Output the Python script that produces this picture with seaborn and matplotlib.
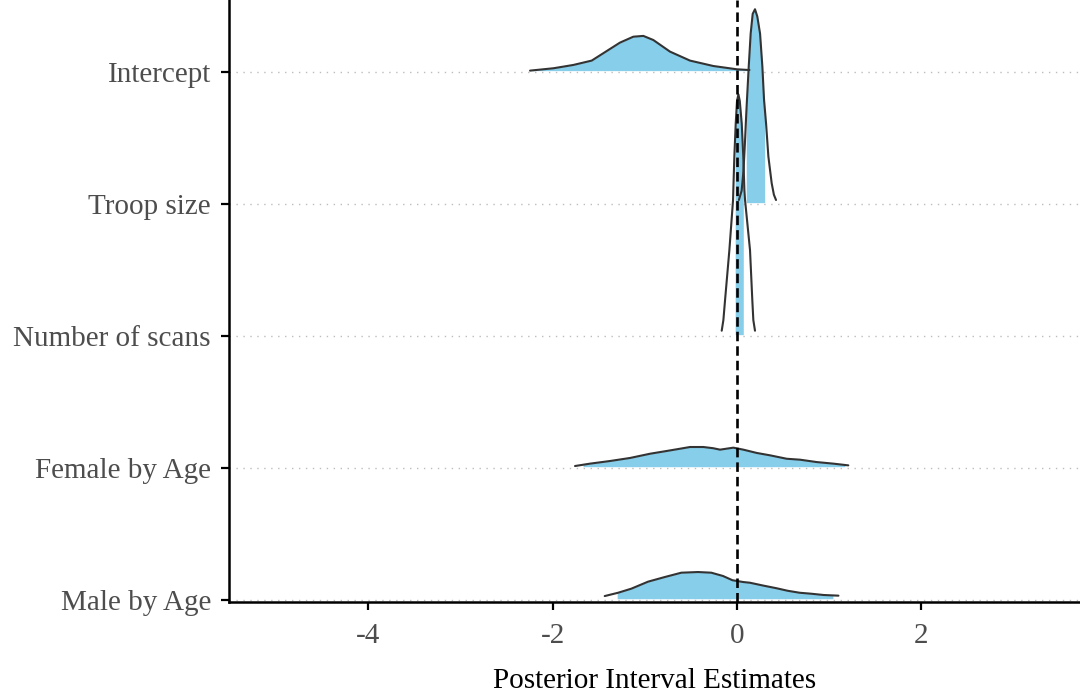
import numpy as np
import pandas as pd
import matplotlib
matplotlib.use("Agg")
import matplotlib.pyplot as plt
import seaborn as sns

# ---- data (x = estimate, h = density height in row units) ----
params = ["Intercept", "Troop size", "Number of scans", "Female by Age", "Male by Age"]
row_pos = [4, 3, 2, 1, 0]

intercept_x = [-2.245, -1.99, -1.775, -1.576, -1.45, -1.27, -1.125, -1.016, -0.908, -0.727,
               -0.51, -0.257, 0.0, 0.123, 0.135]
intercept_h = [0.01, 0.028, 0.053, 0.086, 0.142, 0.222, 0.267, 0.273, 0.242, 0.154,
               0.086, 0.045, 0.02, 0.015, 0.015]

troop_x = [0.02, 0.05, 0.07, 0.085, 0.10, 0.108, 0.127, 0.148, 0.17, 0.195, 0.22, 0.25, 0.275,
           0.293, 0.315, 0.34, 0.376, 0.40, 0.423]
troop_h = [0.03, 0.10, 0.25, 0.45, 0.68, 0.79, 1.04, 1.29, 1.44, 1.475, 1.42, 1.29, 1.04,
           0.79, 0.61, 0.36, 0.157, 0.07, 0.03]

scans_x = [-0.166, -0.148, -0.13, -0.083, -0.043, -0.04, -0.029, -0.014, 0.0, 0.015, 0.03,
           0.051, 0.068, 0.08, 0.087, 0.141, 0.166, 0.177, 0.195]
scans_h = [0.04, 0.12, 0.27, 0.65, 1.03, 1.106, 1.36, 1.61, 1.78, 1.83, 1.78,
           1.61, 1.36, 1.106, 1.03, 0.65, 0.27, 0.12, 0.04]

female_x = [-1.757, -1.594, -1.377, -1.16, -0.944, -0.762, -0.618, -0.51, -0.365, -0.26,
            -0.184, -0.04, 0.068, 0.214, 0.358, 0.539, 0.683, 0.864, 1.045, 1.207]
female_h = [0.015, 0.033, 0.053, 0.076, 0.108, 0.129, 0.146, 0.159, 0.159, 0.15,
            0.139, 0.154, 0.139, 0.114, 0.096, 0.07, 0.063, 0.045, 0.033, 0.02]

male_x = [-1.435, -1.29, -1.146, -0.965, -0.784, -0.604, -0.423, -0.279, -0.152, -0.05,
          0.07, 0.14, 0.28, 0.43, 0.55, 0.68, 0.80, 0.94, 1.10]
male_h = [0.03, 0.055, 0.086, 0.139, 0.174, 0.207, 0.212, 0.207, 0.182, 0.15,
          0.136, 0.131, 0.11, 0.089, 0.07, 0.055, 0.048, 0.038, 0.033]

# shaded (inner) interval limits
inner_lo = [-2.22, 0.10, -0.02, -1.67, -1.30]
inner_hi = [0.135, 0.30, 0.068, 1.17, 1.04]

xticks = [-4, -2, 0, 2]
xlabel = "Posterior Interval Estimates"

curves_x = [intercept_x, troop_x, scans_x, female_x, male_x]
curves_h = [intercept_h, troop_h, scans_h, female_h, male_h]

# ---- styling ----
sns.set_theme(style="ticks")
plt.rcParams["font.family"] = ["Liberation Serif", "DejaVu Serif"]

fig = plt.figure(figsize=(10.8, 6.98), dpi=100)
ax = fig.add_axes([229 / 1080, 96 / 698, 1 - 229 / 1080, 1 - 96 / 698])

fill_col = "#87CEEB"
line_col = "#333333"

# grid lines
for p in row_pos:
    ax.axhline(p, color="#bdbdbd", lw=1.0, ls=(0, (1, 4)), zorder=0.5)

# fills
for xs, hs, base, lo, hi in zip(curves_x, curves_h, row_pos, inner_lo, inner_hi):
    xs = np.asarray(xs, float)
    hs = np.asarray(hs, float)
    inside = (xs > lo) & (xs < hi)
    fx = np.concatenate([[lo], xs[inside], [hi]])
    fh = np.concatenate([[np.interp(lo, xs, hs)], hs[inside], [np.interp(hi, xs, hs)]])
    ax.fill_between(fx, base + 0.01, base + fh, color=fill_col, lw=0, zorder=1)

# outlines via seaborn
for name, xs, hs, base in zip(params, curves_x, curves_h, row_pos):
    df = pd.DataFrame({"x": xs, "y": np.asarray(hs) + base})
    sns.lineplot(data=df, x="x", y="y", sort=False, color=line_col, lw=1.5, ax=ax, zorder=2)

# reference line at zero
ax.axvline(0, color="black", lw=1.9, dashes=(3.6, 1.9), zorder=3)

ax.set_xlim(-5.51, 3.72)
ax.set_ylim(-0.015, 4.545)
ax.set_yticks(row_pos)
ax.set_yticklabels(params)
ax.set_xticks(xticks)
ax.set_xticklabels([str(t) for t in xticks])
ax.set_xlabel(xlabel, fontsize=21, color="black", labelpad=14)
ax.set_ylabel("")

ax.tick_params(axis="both", labelsize=21, labelcolor="#4d4d4d", color="black",
               width=1.6, length=6, direction="out")
ax.tick_params(axis="y", pad=7)
ax.tick_params(axis="x", pad=9)
for s in ["top", "right"]:
    ax.spines[s].set_visible(False)
for s in ["left", "bottom"]:
    ax.spines[s].set_color("black")
    ax.spines[s].set_linewidth(1.8)

fig.savefig("out.png", dpi=100)
